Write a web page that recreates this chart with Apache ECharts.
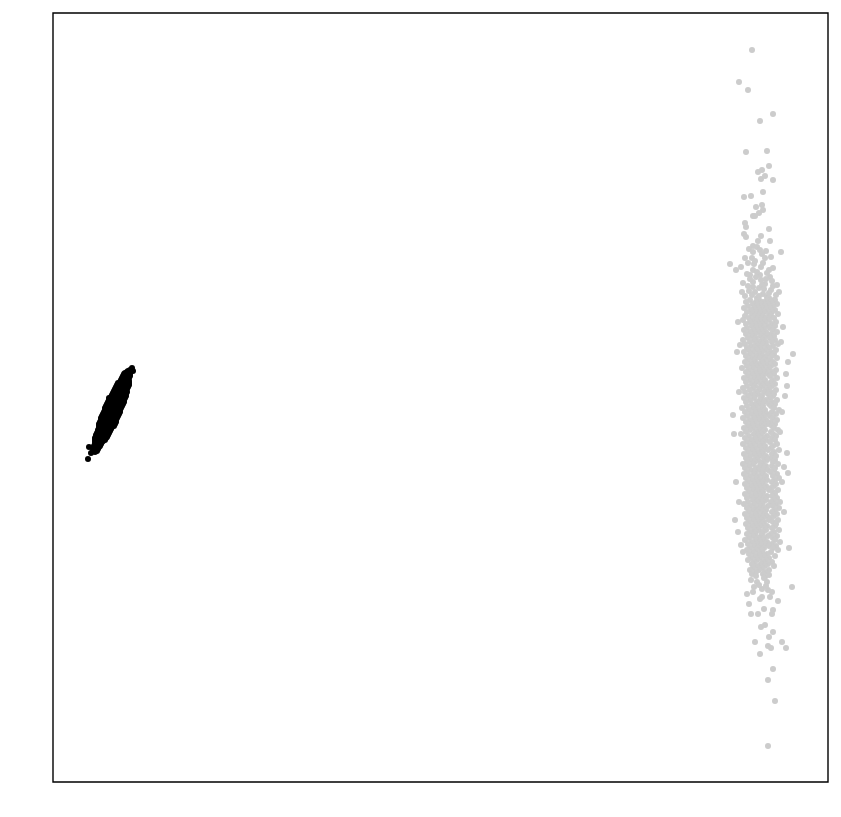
<!DOCTYPE html>
<html>
<head>
<meta charset="utf-8">
<script src="https://cdn.jsdelivr.net/npm/echarts@6/dist/echarts.min.js"></script>
<style>html,body{margin:0;padding:0;background:#fff}#chart{width:841px;height:817px}</style>
</head>
<body>
<div id="chart"></div>
<script>
// Axis extents (data units)
const xRange = [0, 775];
const yRange = [0, 769];

// Light-gray cluster: sparse top tail
const grayTop = [
[699,732],[686,700],[695,692],[720,668],[707,661],[693,630],[714,631],[716,616],[705,610],[709,612],
[708,603],[712,606],[720,602],[691,585],[698,586],[710,590],[703,575],[709,577],[710,572],[706,569],
[700,566],[702,566],[692,559],[693,555],[716,553],[691,548],[693,545],[708,546],[717,541],[705,541],
[700,536],[704,535],[696,533],[707,532],[713,531],[728,530],[700,530],[709,528],[692,524],[699,524],
[712,524],[718,525],[677,518],[683,512],[688,515],[701,518],[710,519],[700,512],[716,512],[697,507],
[707,507],[717,505],[700,500],[712,498],[695,496],[706,494],[718,492],[702,490],[710,488],[692,486],
[714,485],[704,484],[720,496],[697,503],[708,502],[716,489],[724,497],[722,482],[726,490],
[694,508],[704,510],[713,503],[690,499],[700,495],[709,497],[719,501],[696,491],[711,493],[723,487],
[699,487],[706,486],[716,484],[689,490],[703,505],[714,509],[708,515],[695,519],[720,514],[702,521]
];

// Light-gray cluster: dense core
const grayCore = [
[697,482],[706,482],[714,482],[721,482],[693,480],[703,480],[710,480],[718,480],
[700,478],[708,478],[715,478],[724,478],[695,476],[704,476],[712,476],[720,476],
[691,474],[701,474],[709,474],[717,474],[698,472],[706,472],[713,472],[722,472],
[694,470],[703,470],[711,470],[719,470],[699,468],[707,468],[716,468],[725,468],
[692,466],[702,466],[710,466],[718,466],[696,464],[705,464],[713,464],[721,464],
[690,462],[700,462],[708,462],[716,462],[697,460],[704,460],[712,460],[723,460],
[693,458],[702,458],[709,458],[719,458],[699,456],[707,456],[715,456],[722,456],
[694,454],[703,454],[711,454],[717,454],[691,452],[700,452],[708,452],[720,452],
[697,450],[705,450],[713,450],[724,450],[693,448],[702,448],[710,448],[718,448],
[699,446],[708,446],[714,446],[721,446],[695,444],[703,444],[711,444],[717,444],
[690,442],[701,442],[709,442],[722,442],[697,440],[706,440],[713,440],[719,440],
[692,438],[703,438],[710,438],[725,438],[698,436],[705,436],[714,436],[720,436],
[694,434],[702,434],[708,434],[716,434],[696,432],[704,432],[712,432],[723,432],
[691,430],[700,430],[709,430],[718,430],[697,428],[706,428],[715,428],[721,428],
[693,426],[703,426],[710,426],[719,426],[699,424],[707,424],[713,424],[724,424],
[695,422],[702,422],[711,422],[717,422],[692,420],[701,420],[709,420],[720,420],
[698,418],[705,418],[714,418],[722,418],[694,416],[703,416],[710,416],[718,416],
[689,414],[700,414],[708,414],[716,414],[696,412],[706,412],[713,412],[723,412],
[693,410],[702,410],[711,410],[719,410],[699,408],[707,408],[715,408],[721,408],
[695,406],[704,406],[710,406],[717,406],[691,404],[701,404],[709,404],[724,404],
[697,402],[705,402],[712,402],[720,402],[693,400],[703,400],[711,400],[718,400],
[699,398],[708,398],[714,398],[722,398],[694,396],[702,396],[710,396],[719,396],
[690,394],[700,394],[707,394],[716,394],[697,392],[706,392],[713,392],[723,392],
[692,390],[703,390],[711,390],[718,390],[698,388],[705,388],[715,388],[721,388],
[695,386],[702,386],[709,386],[720,386],[691,384],[701,384],[708,384],[717,384],
[697,382],[707,382],[713,382],[724,382],[693,380],[704,380],[711,380],[719,380],
[699,378],[706,378],[716,378],[722,378],[694,376],[703,376],[710,376],[718,376],
[689,374],[700,374],[709,374],[721,374],[696,372],[705,372],[712,372],[726,372],
[692,370],[702,370],[710,370],[719,370],[698,368],[707,368],[714,368],[723,368],
[694,366],[703,366],[711,366],[717,366],[690,364],[701,364],[708,364],[720,364],
[697,362],[706,362],[713,362],[724,362],[693,360],[702,360],[710,360],[718,360],
[699,358],[708,358],[715,358],[722,358],[695,356],[704,356],[711,356],[719,356],
[691,354],[700,354],[709,354],[721,354],[697,352],[706,352],[712,352],[725,352],
[693,350],[703,350],[710,350],[718,350],[688,348],[701,348],[708,348],[720,348],
[696,346],[705,346],[714,346],[723,346],[692,344],[702,344],[711,344],[719,344],
[698,342],[707,342],[713,342],[722,342],[694,340],[703,340],[710,340],[717,340],
[690,338],[700,338],[709,338],[724,338],[697,336],[706,336],[712,336],[720,336],
[693,334],[702,334],[711,334],[718,334],[699,332],[708,332],[715,332],[726,332],
[695,330],[704,330],[710,330],[721,330],[691,328],[701,328],[709,328],[719,328],
[697,326],[706,326],[713,326],[723,326],[693,324],[703,324],[711,324],[718,324],
[698,322],[705,322],[714,322],[722,322],[694,320],[702,320],[710,320],[720,320],
[690,318],[700,318],[708,318],[725,318],[696,316],[707,316],[713,316],[719,316],
[692,314],[703,314],[711,314],[722,314],[698,312],[706,312],[715,312],[721,312],
[694,310],[702,310],[710,310],[718,310],[691,308],[701,308],[709,308],[724,308],
[697,306],[705,306],[713,306],[720,306],[693,304],[703,304],[711,304],[726,304],
[699,302],[707,302],[714,302],[722,302],[695,300],[704,300],[710,300],[719,300],
[692,298],[701,298],[709,298],[723,298],[698,296],[706,296],[713,296],[721,296],
[694,294],[703,294],[711,294],[718,294],[700,292],[708,292],[716,292],[725,292],
[696,290],[704,290],[710,290],[720,290],[692,288],[702,288],[709,288],[722,288],
[698,286],[707,286],[714,286],[719,286],[694,284],[703,284],[711,284],[724,284],
[700,282],[706,282],[713,282],[721,282],[695,280],[704,280],[710,280],[718,280],
[691,278],[701,278],[709,278],[723,278],[697,276],[707,276],[715,276],[720,276],
[694,274],[703,274],[711,274],[726,274],[700,272],[706,272],[713,272],[722,272],
[696,270],[704,270],[710,270],[719,270],[692,268],[702,268],[712,268],[724,268],
[698,266],[707,266],[714,266],[721,266],[694,264],[703,264],[710,264],[718,264],
[700,262],[708,262],[716,262],[725,262],[696,260],[705,260],[711,260],[720,260],
[693,258],[702,258],[709,258],[723,258],[699,256],[707,256],[714,256],[722,256],
[695,254],[704,254],[712,254],[719,254],[701,252],[706,252],[713,252],[726,252],
[697,250],[703,250],[710,250],[721,250],[694,248],[702,248],[709,248],[718,248],
[700,246],[708,246],[715,246],[724,246],[696,244],[705,244],[711,244],[720,244],
[692,242],[703,242],[710,242],[722,242],[699,240],[707,240],[714,240],[727,240],
[695,238],[704,238],[712,238],[719,238],[701,236],[708,236],[716,236],[723,236],
[697,234],[705,234],[711,234],[720,234],[694,232],[703,232],[709,232],[725,232],
[700,230],[709,230],[718,230],[696,228],[706,228],[714,228],
[702,226],[711,226],[722,226],[698,224],[707,224],[716,224],
[695,222],[704,222],[713,222],[701,220],[710,220],[719,220],
[699,218],[708,218],[715,218],[704,216],[712,216],[721,216],
[700,214],[709,214],[697,212],[706,212],[716,212],
[703,210],[712,210],[699,208],[710,208]
];

// Light-gray cluster: side scatter and bottom tail
const grayTail = [
[680,367],[681,348],[740,428],[735,420],[733,408],[734,396],[732,386],[729,370],[734,329],[731,315],
[735,309],[687,437],[688,237],[690,230],[730,455],[728,440],[727,350],[729,300],[727,280],[731,270],
[685,460],[684,430],[686,390],[683,300],[686,280],[685,250],[682,262],[736,234],[739,195],[712,205],
[704,200],[714,200],[700,190],[709,193],[715,192],[707,183],[717,185],[709,185],[725,181],[696,178],
[720,172],[711,173],[698,168],[705,168],[719,168],[708,155],[712,157],[720,150],[716,145],[702,140],
[715,136],[718,134],[729,140],[733,134],[707,128],[720,113],[715,102],[722,81],[715,36],
[703,206],[711,204],[698,202],[716,207],[706,197],[701,195],[713,196],[719,190],[694,188]
];

// Black cluster
const blackPoints = [
[77,412],[75,411],[78,411],[74,410],[77,410],[72,409],[76,409],[71,408],[75,408],[77,408],
[72,407],[76,407],[70,406],[74,406],[77,406],[71,405],[75,405],[69,404],[73,404],[76,404],
[70,403],[74,403],[68,402],[72,402],[75,402],[69,401],[73,401],[76,401],[67,400],[71,400],
[74,400],[65,399],[69,399],[73,399],[76,399],[66,398],[71,398],[75,398],[64,397],[68,397],
[72,397],[76,397],[65,396],[70,396],[74,396],[63,395],[67,395],[71,395],[75,395],[64,394],
[69,394],[73,394],[62,393],[66,393],[70,393],[74,393],[63,392],[68,392],[72,392],[61,391],
[65,391],[69,391],[73,391],[62,390],[67,390],[71,390],[74,390],[60,389],[64,389],[68,389],
[72,389],[62,388],[66,388],[70,388],[73,388],[59,387],[63,387],[67,387],[71,387],[61,386],
[65,386],[69,386],[73,386],[58,385],[62,385],[66,385],[70,385],[56,384],[60,384],[64,384],
[68,384],[72,384],[58,383],[62,383],[66,383],[70,383],[56,382],[60,382],[64,382],[68,382],
[71,382],[57,381],[61,381],[65,381],[69,381],[55,380],[59,380],[63,380],[67,380],[71,380],
[57,379],[61,379],[65,379],[69,379],[54,378],[58,378],[62,378],[66,378],[70,378],[56,377],
[60,377],[64,377],[68,377],[53,376],[57,376],[61,376],[65,376],[69,376],[55,375],[59,375],
[63,375],[67,375],[52,374],[56,374],[60,374],[64,374],[68,374],[54,373],[58,373],[62,373],
[66,373],[52,372],[56,372],[60,372],[64,372],[67,372],[53,371],[57,371],[61,371],[65,371],
[51,370],[55,370],[59,370],[63,370],[67,370],[52,369],[56,369],[60,369],[64,369],[50,368],
[54,368],[58,368],[62,368],[66,368],[51,367],[55,367],[59,367],[63,367],[49,366],[53,366],
[57,366],[61,366],[65,366],[50,365],[54,365],[58,365],[62,365],[48,364],[52,364],[56,364],
[60,364],[64,364],[50,363],[54,363],[58,363],[62,363],[48,362],[52,362],[56,362],[60,362],
[63,362],[49,361],[53,361],[57,361],[61,361],[47,360],[51,360],[55,360],[59,360],[63,360],
[48,359],[52,359],[56,359],[60,359],[46,358],[50,358],[54,358],[58,358],[62,358],[48,357],
[52,357],[56,357],[60,357],[46,356],[50,356],[54,356],[58,356],[61,356],[47,355],[51,355],
[55,355],[59,355],[46,354],[50,354],[54,354],[58,354],[47,353],[51,353],[55,353],[58,353],
[45,352],[49,352],[53,352],[57,352],[46,351],[50,351],[54,351],[57,351],[45,350],[49,350],
[53,350],[56,350],[44,349],[48,349],[52,349],[56,349],[45,348],[49,348],[53,348],[55,348],
[43,347],[47,347],[51,347],[55,347],[44,346],[48,346],[52,346],[54,346],[43,345],[47,345],
[51,345],[54,345],[42,344],[46,344],[50,344],[53,344],[44,343],[48,343],[51,343],[42,342],
[46,342],[50,342],[52,342],[43,341],[47,341],[50,341],[42,340],[46,340],[49,340],[44,339],
[48,339],[42,338],[45,338],[48,338],[43,337],[47,337],[41,336],[44,336],[47,336],[42,335],
[46,335],[41,334],[44,334],[42,333],[45,333],[40,332],[43,332],[41,331],[44,331],[42,330],
[36,335],[35,323],[79,414],[76,409],[38,329],[80,411]
];

const chart = echarts.init(document.getElementById('chart'), null, {renderer: 'canvas'});
const grayData = grayTop.concat(grayCore, grayTail);
chart.setOption({
  animation: false,
  backgroundColor: '#ffffff',
  grid: {left: 53, top: 13, width: 775, height: 769, show: true, borderColor: '#000000', borderWidth: 1.4, backgroundColor: 'transparent'},
  xAxis: {type: 'value', min: xRange[0], max: xRange[1], show: false, splitLine: {show: false}},
  yAxis: {type: 'value', min: yRange[0], max: yRange[1], show: false, splitLine: {show: false}},
  series: [
    {type: 'scatter', data: grayData, symbolSize: 6, itemStyle: {color: '#cccccc', opacity: 1}, silent: true},
    {type: 'scatter', data: blackPoints, symbolSize: 6, itemStyle: {color: '#000000', opacity: 1}, silent: true}
  ]
});
</script>
</body>
</html>
